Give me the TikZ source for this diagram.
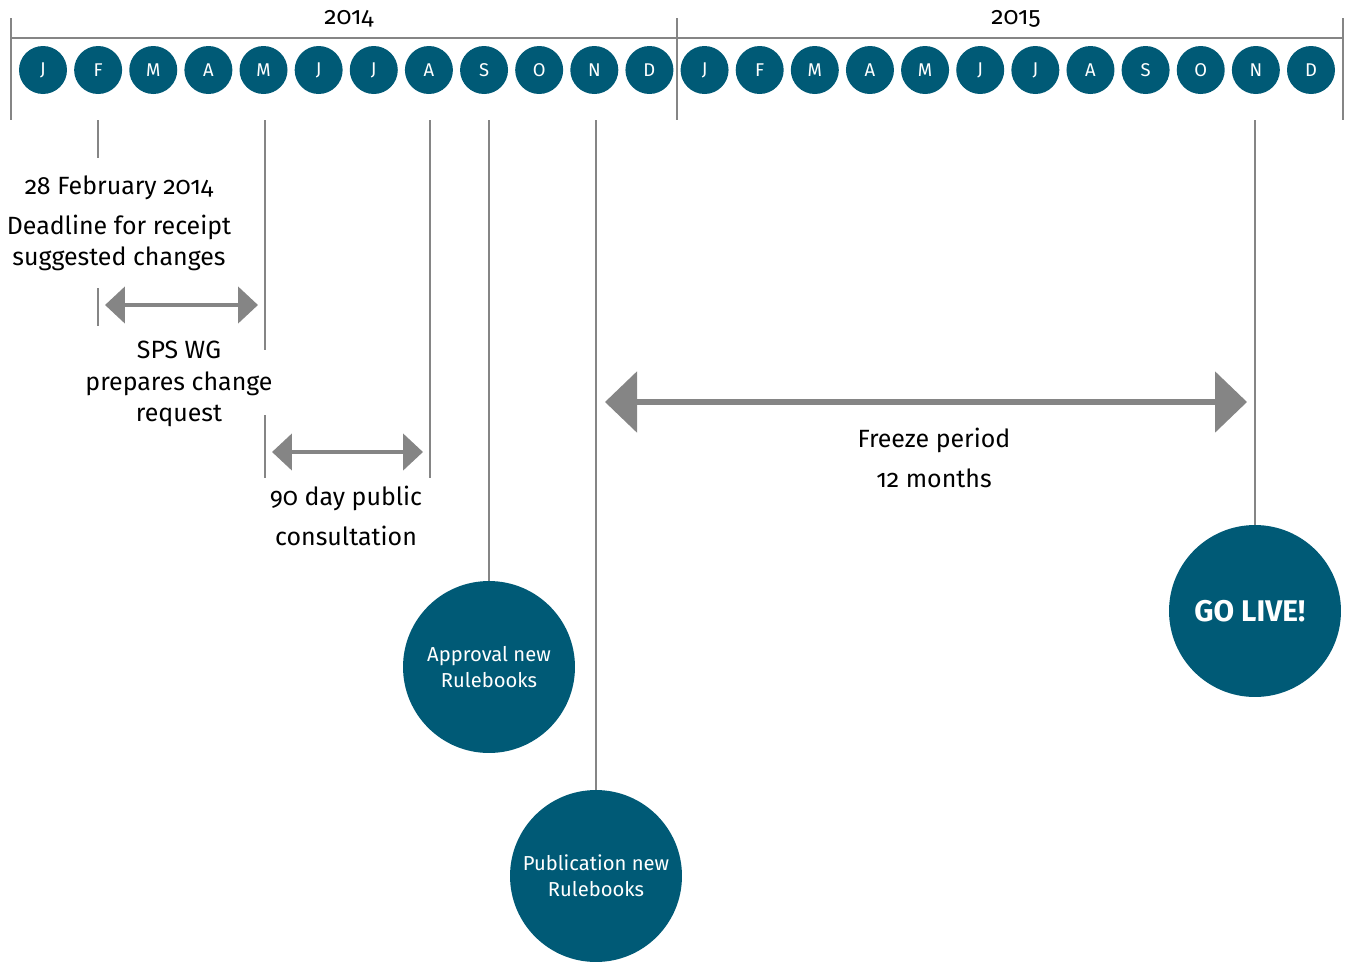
\documentclass[tikz,border=0pt]{standalone}
\usepackage{fontspec}
\setmainfont[Numbers=OldStyle]{Fira Sans}
\usepackage{xcolor}
\usepackage{tikz}
\usetikzlibrary{arrows.meta,positioning}

\definecolor{rbteal}{HTML}{005A76}
\definecolor{rbgrey}{HTML}{858585}

\begin{document}
\begin{tikzpicture}[
    x=0.02cm, y=-0.02cm,
    month/.style={circle, fill=rbteal, text=white, minimum size=0.96cm, inner sep=0pt, font=\fontsize{10.5}{12}\selectfont},
    milestone/.style={circle, fill=rbteal, text=white, minimum size=3.44cm, inner sep=0pt, align=center, font=\fontsize{11.5}{14.7}\selectfont},
    rule/.style={draw=rbgrey, line width=1.4pt},
    span/.style={draw=rbgrey, line width=2.8pt, {Triangle[length=0.4cm, width=0.72cm]}-{Triangle[length=0.4cm, width=0.72cm]}},
    bigspan/.style={draw=rbgrey, line width=3.4pt, {Triangle[length=0.64cm, width=1.2cm]}-{Triangle[length=0.64cm, width=1.2cm]}},
    note/.style={align=center, font=\fontsize{14.2}{18}\selectfont}
]
    \useasboundingbox (0,0) rectangle (1349,961);

    % Axis
    \coordinate (start) at (11,38);
    \coordinate (turn) at (677,38);
    \coordinate (stop) at (1343,38);
    \coordinate (base) at (0,120);
    \draw[rule] (start) -- (stop);
    \draw[rule] ([yshift=0.4cm]start) -- (start |- base);
    \draw[rule] ([yshift=0.4cm]turn) -- (turn |- base);
    \draw[rule] ([yshift=0.4cm]stop) -- (stop |- base);
    \node[font=\fontsize{14}{16}\selectfont] (y2014) at (349,19) {2014};
    \node[font=\fontsize{14}{16}\selectfont] (y2015) at (1016,19) {2015};

    % Months
    \foreach \mon [count=\i] in {J,F,M,A,M,J,J,A,S,O,N,D,J,F,M,A,M,J,J,A,S,O,N,D}
        \node[month] (m\i) at ({43+(\i-1)*55.13}, 70) {\mon};

    % Deadline
    \coordinate (feb) at (98,158);
    \draw[rule] (feb |- base) -- (feb);
    \node[note] (date) at (119,188) {28 February 2014};
    \node[note] (deadline) at (119,243) {Deadline for receipt\\suggested changes};

    % Change request
    \coordinate (wgstart) at (98,288);
    \coordinate (wgend) at (98,326);
    \coordinate (may) at (265,350);
    \draw[rule] (wgstart) -- (wgend);
    \draw[rule] (may |- base) -- (may);
    \draw[span] (105,305) coordinate (wgleft) -- (258,305) coordinate (wgright);
    \node[note] (wg) at (179,384) {SPS WG\\prepares change\\request};

    % Consultation
    \coordinate (constart) at (265,415);
    \coordinate (conend) at (430,478);
    \draw[rule] (constart) -- (constart |- conend);
    \draw[rule] (conend |- base) -- (conend);
    \draw[span] (272,452) coordinate (conleft) -- (423,452) coordinate (conright);
    \node[note, font=\fontsize{14.2}{22.7}\selectfont] (consult) at (346,516) {90 day public\\consultation};

    % Milestones
    \node[milestone] (approval) at (489,667) {Approval new\\Rulebooks};
    \node[milestone] (publication) at (596,876) {Publication new\\Rulebooks};
    \node[milestone, font=\fontsize{17}{20}\bfseries] (golive) at (1255,611) {\hspace*{-6pt}GO LIVE!};
    \draw[rule] (approval.north |- base) -- (approval.north);
    \draw[rule] (publication.north |- base) -- (publication.north);
    \draw[rule] (golive.north |- base) -- (golive.north);

    % Freeze period
    \draw[bigspan] (605,402) coordinate (freezeleft) -- (1247,402) coordinate (freezeright);
    \node[note, font=\fontsize{14.2}{22.7}\selectfont] (freeze) at (934,458) {Freeze period\\12 months};
\end{tikzpicture}
\end{document}
